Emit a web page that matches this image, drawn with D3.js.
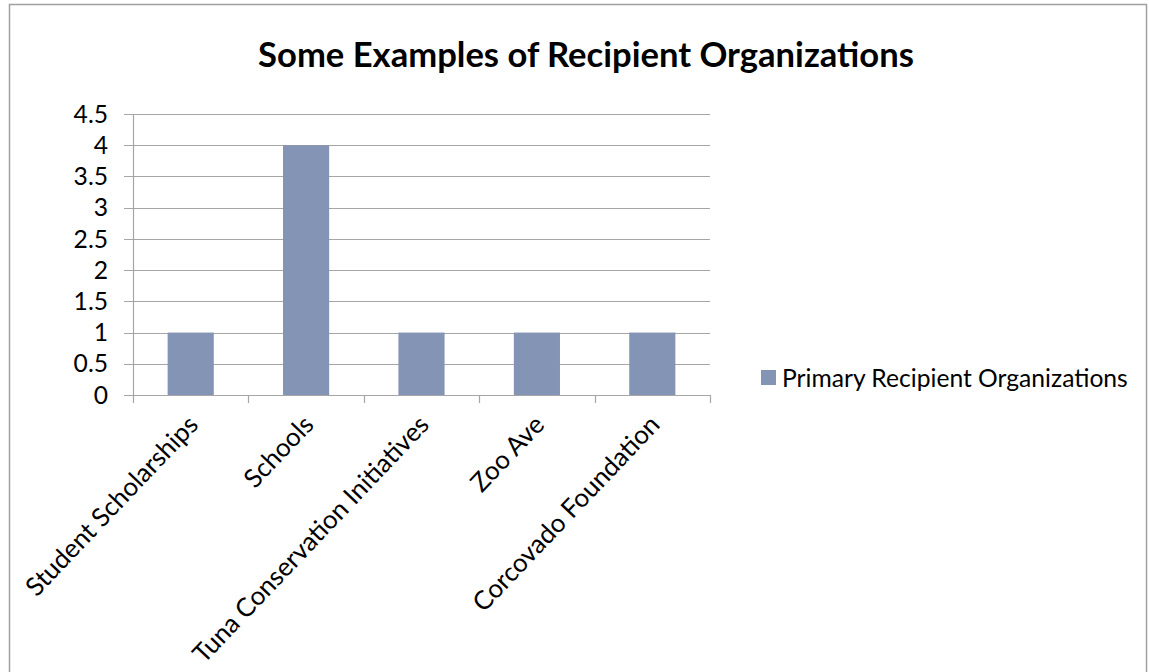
<!DOCTYPE html>
<html>
<head>
<meta charset="utf-8">
<script src="https://cdn.jsdelivr.net/npm/d3@7"></script>
<style>
  html, body { margin: 0; padding: 0; background: #fff; }
  svg { display: block; }
</style>
</head>
<body>
<svg id="chart" width="1149" height="672"></svg>
<script>
const title = "Some Examples of Recipient Organizations";
const categories = ["Student Scholarships", "Schools", "Tuna Conservation Initiatives", "Zoo Ave", "Corcovado Foundation"];
const seriesName = "Primary Recipient Organizations";
const values = [1, 4, 1, 1, 1];
const yTicks = [0, 0.5, 1, 1.5, 2, 2.5, 3, 3.5, 4, 4.5];

const FONT = "Lato, 'Open Sans', sans-serif";
const barColor = "#8494b4";
const gridColor = "#a6a6a6";

const svg = d3.select("#chart");

// outer border
svg.append("rect")
  .attr("x", 9.5).attr("y", 4.5)
  .attr("width", 1137).attr("height", 720)
  .attr("fill", "#fff")
  .attr("stroke", "#a0a0a0").attr("stroke-width", 1.5);

const plot = { left: 133, right: 710, top: 114, bottom: 395 };

const x = d3.scaleBand().domain(categories).range([plot.left, plot.right]).paddingInner(0).paddingOuter(0);
const y = d3.scaleLinear().domain([0, 4.5]).range([plot.bottom, plot.top]);

// gridlines
svg.append("g").selectAll("line").data(yTicks).join("line")
  .attr("x1", plot.left - 9).attr("x2", plot.right)
  .attr("y1", d => Math.round(y(d)) + 0.5).attr("y2", d => Math.round(y(d)) + 0.5)
  .attr("stroke", gridColor).attr("stroke-width", 1.2);

// bars
const barW = x.bandwidth() * 0.4;
svg.append("g").selectAll("rect").data(values).join("rect")
  .attr("x", (d, i) => x(categories[i]) + (x.bandwidth() - barW) / 2)
  .attr("y", d => y(d))
  .attr("width", barW)
  .attr("height", d => y(0) - y(d))
  .attr("fill", barColor);

// y axis line
svg.append("line")
  .attr("x1", plot.left + 0.5).attr("x2", plot.left + 0.5)
  .attr("y1", plot.top).attr("y2", plot.bottom + 8)
  .attr("stroke", gridColor).attr("stroke-width", 1.2);

// x category ticks
const bounds = categories.map(c => x(c)).concat([plot.right]);
svg.append("g").selectAll("line").data(bounds.slice(1)).join("line")
  .attr("x1", d => Math.round(d) + 0.5).attr("x2", d => Math.round(d) + 0.5)
  .attr("y1", plot.bottom).attr("y2", plot.bottom + 8)
  .attr("stroke", gridColor).attr("stroke-width", 1.2);

// font size fitting helper
function fitSize(text, weight, targetWidth, base) {
  const t = svg.append("text").attr("font-family", FONT).attr("font-weight", weight)
    .attr("font-size", base).text(text);
  const w = t.node().getComputedTextLength();
  t.remove();
  return base * targetWidth / w;
}
const labelSize = fitSize(seriesName, "normal", 346, 20);
const titleSize = fitSize(title, "bold", 656, 28);

// y tick labels
svg.append("g").selectAll("text").data(yTicks).join("text")
  .attr("x", 108).attr("y", d => y(d))
  .attr("dy", "0.35em")
  .attr("text-anchor", "end")
  .attr("font-family", FONT).attr("font-size", labelSize)
  .attr("fill", "#000")
  .text(d => d);

// x labels (rotated)
svg.append("g").selectAll("text").data(categories).join("text")
  .attr("transform", c => `translate(${x(c) + x.bandwidth() / 2 + 9},${plot.bottom + 31}) rotate(-46.5)`)
  .attr("text-anchor", "end")
  .attr("font-family", FONT).attr("font-size", labelSize * 1.05)
  .attr("fill", "#000")
  .text(c => c);

// title
svg.append("text")
  .attr("x", 586).attr("y", 67)
  .attr("text-anchor", "middle")
  .attr("font-family", FONT).attr("font-weight", "bold").attr("font-size", titleSize)
  .attr("fill", "#000")
  .text(title);

// legend
svg.append("rect").attr("x", 761).attr("y", 370).attr("width", 15).attr("height", 15).attr("fill", barColor);
svg.append("text")
  .attr("x", 782).attr("y", 378).attr("dy", "0.35em")
  .attr("font-family", FONT).attr("font-size", labelSize)
  .attr("fill", "#000")
  .text(seriesName);
</script>
</body>
</html>
